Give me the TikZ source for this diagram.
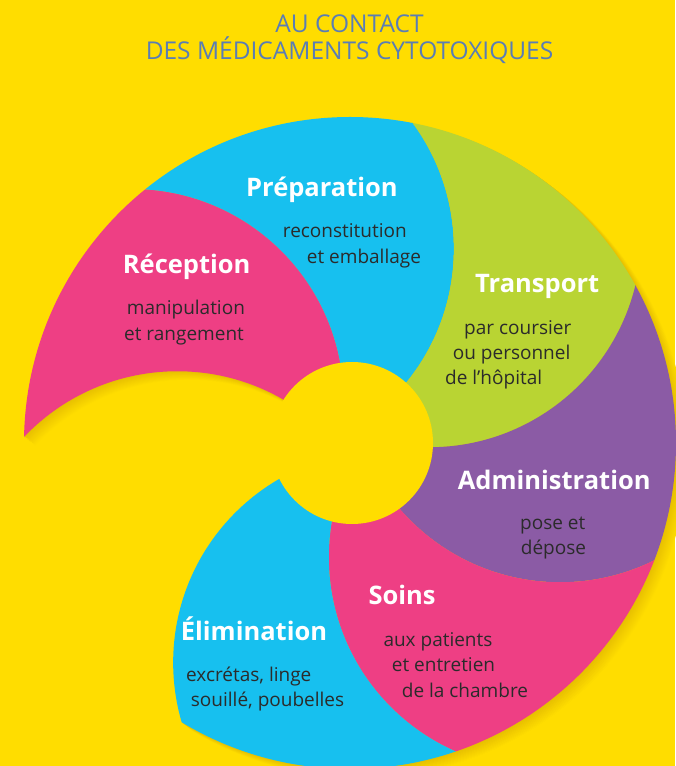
\documentclass[tikz,border=0pt]{standalone}
\usepackage{fontspec}
\setmainfont{Open Sans}
\definecolor{bgyellow}{HTML}{FFDD00}
\definecolor{colblue}{HTML}{17C0EF}
\definecolor{colpink}{HTML}{EE3F84}
\definecolor{colgreen}{HTML}{B9D433}
\definecolor{colviolet}{HTML}{8B5BA5}
\definecolor{titleblue}{HTML}{5A7DB5}
\definecolor{notegray}{HTML}{2B2B2B}
\definecolor{shadebrown}{HTML}{C09000}
\tikzset{
    steplabel/.style={anchor=base west, inner sep=0pt, text=white, font=\bfseries\fontsize{25.5}{30}\selectfont},
    stepnote/.style={anchor=base west, inner sep=0pt, text=notegray, font=\fontsize{19}{23}\selectfont},
    headline/.style={anchor=base, inner sep=0pt, text=titleblue, font=\fontsize{24.5}{27}\selectfont}
}
\newcommand\Rout{326}
\newcommand\Rdiv{212}
\newcommand\blade[3]{%
    \begin{scope}
        \clip (C) circle[radius=\Rout];
        \clip (D#1) circle[radius=\Rdiv];
        \fill[#3, even odd rule] (-100,-100) rectangle (800,900) (D#2) circle[radius=\Rdiv];
    \end{scope}}

\begin{document}
\begin{tikzpicture}[x=1pt, y=1pt]
    \fill[bgyellow] (0,0) rectangle (675,766);
    \useasboundingbox (0,0) rectangle (675,766);
    \coordinate (C) at (350,323);
    \foreach \k in {0,...,6}
        \path (C) ++({219.1-50*\k}:222.4) coordinate (D\k);
    % soft shadow
    \foreach \s in {12,11,...,1}{
        \pgfmathtruncatemacro\pct{3*(13-\s)}
        \begin{scope}[transform canvas={shift={(0.9*\s,-0.7*\s)}}]
            \clip (C) circle[radius=\Rout];
            \fill[shadebrown!\pct!bgyellow] (D6) circle[radius=\Rdiv];
            \fill[shadebrown!\pct!bgyellow, even odd rule] (-100,-100) rectangle (800,900) (D0) circle[radius=\Rdiv];
        \end{scope}
    }
    \blade{1}{0}{colpink}
    \blade{2}{1}{colblue}
    \blade{3}{2}{colgreen}
    \blade{4}{3}{colviolet}
    \blade{5}{4}{colpink}
    \blade{6}{5}{colblue}
    \fill[bgyellow] (352,323) circle[radius=81];

    \node[headline] (headA) at (349.5,733) {AU CONTACT};
    \node[headline] (headB) at (349.5,706) {DES MÉDICAMENTS CYTOTOXIQUES};

    \node[steplabel] (recep) at (122.7,492) {Réception};
    \node[stepnote] (recepA) at (126.7,451) {manipulation};
    \node[stepnote] (recepB) at (124,425.3) {et rangement};

    \node[steplabel] (prep) at (246,569.3) {Préparation};
    \node[stepnote] (prepA) at (282.7,528.3) {reconstitution};
    \node[stepnote] (prepB) at (306.7,502.7) {et emballage};

    \node[steplabel] (trans) at (475,473.3) {Transport};
    \node[stepnote] (transA) at (464,431) {par coursier};
    \node[stepnote] (transB) at (452.7,406) {ou personnel};
    \node[stepnote] (transC) at (445,381) {de l’hôpital};

    \node[steplabel] (admin) at (457.7,276) {Administration};
    \node[stepnote] (adminA) at (520,236) {pose et};
    \node[stepnote] (adminB) at (520.7,211) {dépose};

    \node[steplabel] (soins) at (368.3,161) {Soins};
    \node[stepnote] (soinsA) at (383.3,119.3) {aux patients};
    \node[stepnote] (soinsB) at (391.7,94.3) {et entretien};
    \node[stepnote] (soinsC) at (401.7,68.7) {de la chambre};

    \node[steplabel] (elim) at (180.7,125.3) {Élimination};
    \node[stepnote] (elimA) at (186,84.3) {excrétas, linge};
    \node[stepnote] (elimB) at (190.7,59.3) {souillé, poubelles};
\end{tikzpicture}
\end{document}
